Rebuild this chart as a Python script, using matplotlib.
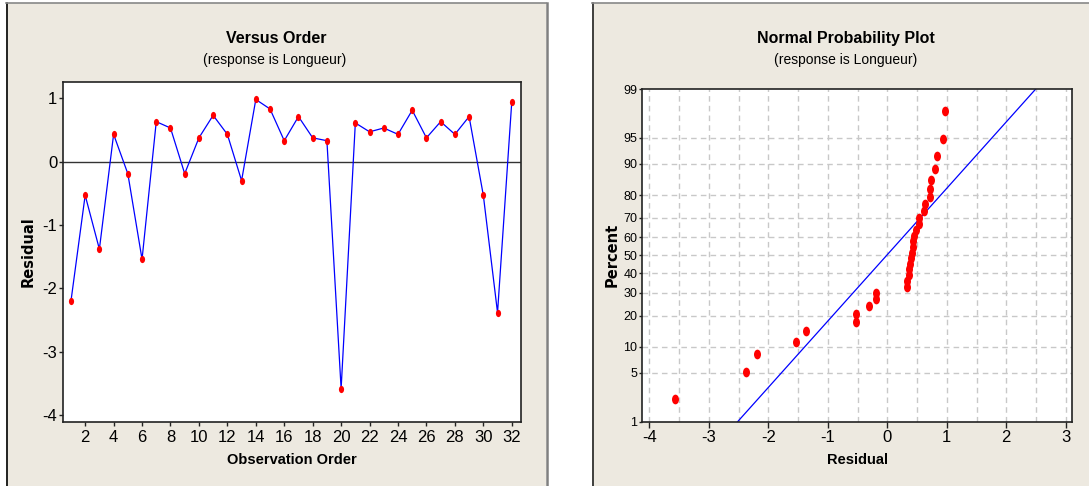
import numpy as np
import matplotlib
matplotlib.use("Agg")
import matplotlib.pyplot as plt
from matplotlib.path import Path
from matplotlib.transforms import Affine2D
from matplotlib.patches import Rectangle
from matplotlib.lines import Line2D
from statistics import NormalDist

# Données
ordre = list(range(1, 33))
residus = [-2.20, -0.53, -1.38, 0.43, -0.19, -1.54, 0.63, 0.53, -0.19, 0.375,
           0.73, 0.43, -0.30, 0.98, 0.83, 0.33, 0.71, 0.375, 0.33, -3.58,
           0.61, 0.47, 0.53, 0.43, 0.81, 0.375, 0.63, 0.43, 0.71, -0.53,
           -2.38, 0.94]

residus_tries = [-3.57, -2.37, -2.19, -1.53, -1.37, -0.53, -0.53, -0.30, -0.19, -0.19,
                 0.33, 0.33, 0.36, 0.37, 0.38, 0.40, 0.42, 0.43, 0.43, 0.45,
                 0.48, 0.53, 0.54, 0.61, 0.63, 0.71, 0.71, 0.73, 0.81, 0.84,
                 0.94, 0.97]
pourcents = [2.2, 5.2, 8.3, 11.4, 14.5, 17.6, 20.7, 23.8, 26.9, 29.9,
             33.0, 36.1, 39.2, 42.3, 45.4, 48.5, 51.5, 54.6, 57.7, 60.8,
             63.9, 67.0, 70.1, 73.1, 76.2, 79.3, 82.4, 85.5, 88.6, 91.7,
             94.8, 97.8]
moyenne_ajust = -0.01
ecart_ajust = 1.077

ticks_pct = [1, 5, 10, 20, 30, 40, 50, 60, 70, 80, 90, 95, 99]
grille_pct = [5, 10, 20, 30, 40, 50, 60, 70, 80, 90, 95]

BEIGE = '#EDE9E0'
POLICE = ['Liberation Sans', 'DejaVu Sans']
plt.rcParams['axes.unicode_minus'] = False

nd = NormalDist()
_inv = np.vectorize(nd.inv_cdf, otypes=[float])
_cdf = np.vectorize(nd.cdf, otypes=[float])

def vers_z(p):
    p = np.clip(np.asarray(p, dtype=float) / 100.0, 1e-9, 1 - 1e-9)
    return _inv(p)

def depuis_z(z):
    return _cdf(np.asarray(z, dtype=float)) * 100.0

# Marqueur ellipse (plus haut que large)
ellipse = Path.unit_circle().transformed(Affine2D().scale(0.72, 1.0))

fig = plt.figure(figsize=(10.89, 4.86), dpi=100, facecolor='white')
W, H = 1089.0, 486.0

# Panneaux de fond
fig.add_artist(Rectangle((6 / W, 0), (546 - 6) / W, 1 - 3 / H, transform=fig.transFigure,
                         facecolor=BEIGE, edgecolor='none', zorder=-10))
fig.add_artist(Rectangle((592 / W, 0), 1 - 592 / W, 1 - 3 / H, transform=fig.transFigure,
                         facecolor=BEIGE, edgecolor='none', zorder=-10))
fig.add_artist(Line2D([6.5 / W, 6.5 / W], [0, 1 - 3 / H], transform=fig.transFigure, color='black', lw=1.2))
fig.add_artist(Line2D([6 / W, 546 / W], [1 - 3.5 / H, 1 - 3.5 / H], transform=fig.transFigure, color='#888888', lw=1.2))
fig.add_artist(Line2D([546.5 / W, 546.5 / W], [0, 1 - 3 / H], transform=fig.transFigure, color='#808080', lw=1.8))
fig.add_artist(Line2D([592.5 / W, 592.5 / W], [0, 1 - 3 / H], transform=fig.transFigure, color='#222222', lw=1.2))
fig.add_artist(Line2D([592 / W, 1], [1 - 3.5 / H, 1 - 3.5 / H], transform=fig.transFigure, color='#888888', lw=1.2))

# ---------- Versus Order ----------
ax1 = fig.add_axes([62.7 / W, (H - 421.7) / H, 458.3 / W, 340.0 / H])
ax1.plot(ordre, residus, color='blue', lw=0.9, zorder=2)
ax1.plot(ordre, residus, linestyle='none', marker=ellipse, markersize=5.2,
         color='red', markeredgewidth=0, zorder=3)
ax1.axhline(0, color='#333333', lw=1.0, zorder=1)
ax1.set_xlim(0.42, 32.65)
ax1.set_ylim(-4.1, 1.26)
ax1.set_xticks(range(2, 33, 2))
ax1.set_yticks([-4, -3, -2, -1, 0, 1])
ax1.tick_params(axis='x', direction='out', length=3, width=1, colors='#222222',
                labelcolor='black', labelsize=12, pad=3)
ax1.tick_params(axis='y', direction='out', length=3, width=1, colors='#222222',
                labelcolor='black', labelsize=12, pad=1)
for lab in ax1.get_xticklabels() + ax1.get_yticklabels():
    lab.set_family(POLICE)
for s in ax1.spines.values():
    s.set_color('#222222')
    s.set_linewidth(1.2)
ax1.set_ylabel('Residual', fontsize=10.5, fontweight='bold', va='center')
ax1.yaxis.set_label_coords(-0.0757, 0.5)
ax1.set_xlabel('Observation Order', fontsize=10.5, fontweight='bold', family=POLICE)
ax1.xaxis.set_label_coords(0.5, -0.1126)
ax1.xaxis.label.set_va('center')

fig.text(276.7 / W, 1 - 38.3 / H, 'Versus Order', ha='center', va='center',
         fontsize=11.5, fontweight='bold', family=POLICE)
fig.text(275 / W, 1 - 60 / H, '(response is Longueur)', ha='center', va='center',
         fontsize=10, family=POLICE)

# ---------- Normal Probability Plot ----------
ax2 = fig.add_axes([641.7 / W, (H - 421.7) / H, 430.6 / W, 332.7 / H])
ax2.set_yscale('function', functions=(vers_z, depuis_z))
ax2.set_xlim(-4.128, 3.11)
ax2.set_ylim(1, 99)
for xv in np.arange(-4, 3.01, 0.5):
    ax2.axvline(xv, color='#C8C8C8', lw=1.0, ls=(0, (4, 3)), zorder=0)
for yv in grille_pct:
    ax2.axhline(yv, color='#C8C8C8', lw=1.0, ls=(0, (4, 3)), zorder=0)
p_ligne = np.array([0.5, 99.5])
x_ligne = moyenne_ajust + ecart_ajust * vers_z(p_ligne)
ax2.plot(x_ligne, p_ligne, color='blue', lw=0.9, zorder=2)
ax2.plot(residus_tries, pourcents, linestyle='none', marker=ellipse, markersize=7.0,
         color='red', markeredgewidth=0, zorder=3)
ax2.set_xticks(range(-4, 4))
ax2.set_yticks(ticks_pct)
ax2.set_yticklabels([str(t) for t in ticks_pct])
ax2.yaxis.set_minor_locator(matplotlib.ticker.NullLocator())
ax2.tick_params(axis='x', direction='out', length=4, width=1, colors='#222222',
                labelcolor='black', labelsize=12, pad=2)
ax2.tick_params(axis='y', direction='out', length=2.5, width=1, colors='#222222',
                labelcolor='black', labelsize=9, pad=0.5)
for lab in ax2.get_xticklabels() + ax2.get_yticklabels():
    lab.set_family(POLICE)
for s in ax2.spines.values():
    s.set_color('#222222')
    s.set_linewidth(1.2)
ax2.set_ylabel('Percent', fontsize=10.5, fontweight='bold', va='center')
ax2.yaxis.set_label_coords(-0.069, 0.5)
ax2.set_xlabel('Residual', fontsize=10.5, fontweight='bold', family=POLICE)
ax2.xaxis.set_label_coords(0.5, -0.115)
ax2.xaxis.label.set_va('center')

fig.text(846 / W, 1 - 38.3 / H, 'Normal Probability Plot', ha='center', va='center',
         fontsize=11.5, fontweight='bold', family=POLICE)
fig.text(845.6 / W, 1 - 60 / H, '(response is Longueur)', ha='center', va='center',
         fontsize=10, family=POLICE)

fig.savefig('out.png', dpi=100, facecolor='white')
